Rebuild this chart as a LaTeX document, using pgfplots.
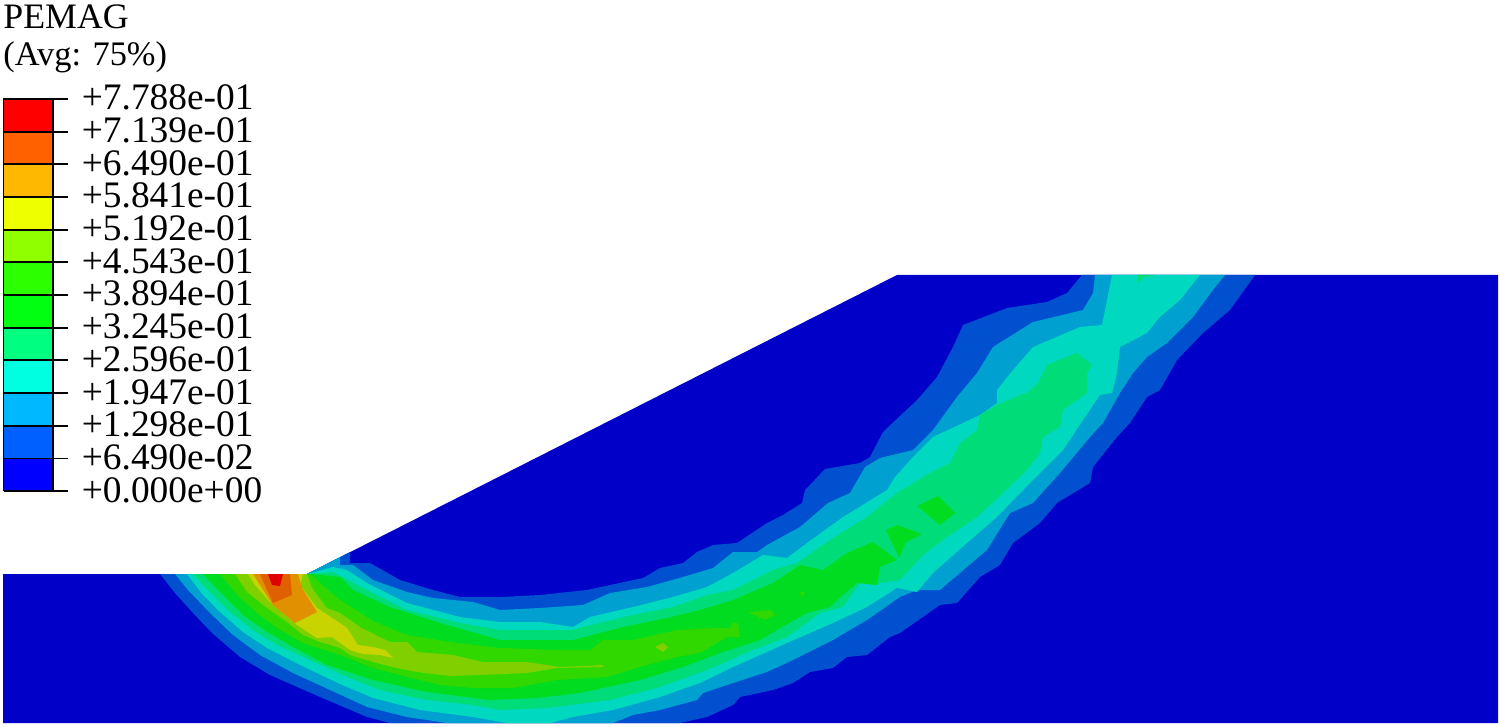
\documentclass[border=0pt]{standalone}
\usepackage{fontspec}
\setmainfont{Liberation Serif}
\usepackage{pgfplots}
\pgfplotsset{compat=1.18}
\definecolor{LA}{HTML}{0000C8}\definecolor{LB}{HTML}{0050D0}\definecolor{LC}{HTML}{00A0D0}
\definecolor{LD}{HTML}{00D8C0}\definecolor{LE}{HTML}{00DC78}\definecolor{LF}{HTML}{00DC20}
\definecolor{LG}{HTML}{30D800}\definecolor{LH}{HTML}{80D000}\definecolor{LI}{HTML}{C8D400}
\definecolor{LJ}{HTML}{E09000}\definecolor{LK}{HTML}{E06000}\definecolor{LL}{HTML}{E00000}
\definecolor{C1}{HTML}{FF0000}\definecolor{C2}{HTML}{FF6000}\definecolor{C3}{HTML}{FFB800}
\definecolor{C4}{HTML}{EEFF00}\definecolor{C5}{HTML}{90FF00}\definecolor{C6}{HTML}{2CFF00}
\definecolor{C7}{HTML}{00FF10}\definecolor{C8}{HTML}{00FF80}\definecolor{C9}{HTML}{00FFE0}
\definecolor{C10}{HTML}{00B8FF}\definecolor{C11}{HTML}{0060FF}\definecolor{C12}{HTML}{0000FF}
\begin{document}
\begin{tikzpicture}
\begin{axis}[scale only axis,width=750pt,height=363.5pt,xmin=0,xmax=1500,ymin=0,ymax=727,y dir=reverse,
  hide axis,clip=true,
  every axis plot/.append style={draw=none,mark=none}]
% domain
\addplot[fill=LA] coordinates {(3,574)(307,574)(897,275)(1498,275)(1498,723)(3,723)};
% L1
\addplot[fill=LB] coordinates {(160,574)(175,593)(193,613)(212,633)(240,657)(270,675)(320,697)(367,717)(390,723)(680,723)(707,717)(733,705)(740,697)(773,690)(793,683)(810,672)(833,668)(847,657)(867,655)(890,637)(900,633)(940,605)(957,603)(980,577)(1000,565)(1013,543)(1040,523)(1057,503)(1090,483)(1093,467)(1117,437)(1130,423)(1147,397)(1160,390)(1177,360)(1203,333)(1230,310)(1255,275)(1082,275)(1067,293)(1047,302)(1007,308)(963,325)(953,347)(937,377)(917,400)(883,432)(870,457)(860,463)(825,469)(805,490)(802,503)(783,515)(767,523)(737,543)(713,545)(697,552)(683,563)(660,568)(643,578)(610,585)(587,590)(540,595)(500,597)(460,597)(433,590)(400,580)(370,563)(350,563)(350,552)(307,574)};
% L2
\addplot[fill=LC] coordinates {(175,574)(188,590)(210,613)(233,635)(260,655)(293,673)(367,707)(407,717)(447,723)(613,723)(633,715)(660,710)(697,700)(703,693)(733,683)(767,672)(793,660)(833,640)(867,620)(900,597)(917,590)(940,590)(967,567)(987,550)(1010,513)(1033,503)(1060,473)(1090,437)(1103,423)(1120,393)(1133,373)(1147,357)(1167,343)(1193,317)(1213,290)(1225,275)(1095,275)(1093,293)(1083,310)(1033,322)(993,347)(977,373)(957,397)(933,430)(913,450)(880,458)(865,467)(850,493)(828,503)(800,527)(767,545)(757,552)(733,552)(713,568)(683,577)(647,587)(610,593)(583,605)(540,608)(500,610)(473,602)(433,598)(407,592)(373,580)(353,565)(340,565)(340,557)(307,574)};
% L3
\addplot[fill=LD] coordinates {(187,574)(203,595)(220,612)(243,632)(267,648)(300,665)(340,684)(373,698)(420,710)(473,717)(507,723)(550,723)(573,717)(613,710)(660,697)(700,683)(733,667)(787,643)(833,623)(867,607)(897,588)(917,592)(933,573)(967,543)(997,517)(1033,480)(1063,450)(1083,420)(1100,395)(1112,393)(1117,373)(1120,347)(1147,333)(1160,317)(1180,300)(1200,275)(1112,275)(1107,300)(1102,325)(1080,327)(1033,347)(1013,370)(997,390)(997,403)(980,415)(933,437)(913,457)(895,477)(887,490)(843,517)(807,543)(787,558)(763,555)(733,573)(707,587)(673,597)(633,607)(590,617)(573,627)(540,622)(500,622)(460,617)(407,603)(367,583)(347,570)(333,567)(307,574)};
% L4
\addplot[fill=LE] coordinates {(193,574)(210,592)(230,612)(253,630)(277,645)(310,660)(345,676)(380,690)(427,700)(473,705)(500,710)(547,708)(610,700)(657,688)(707,670)(753,650)(787,637)(820,613)(843,607)(860,583)(880,583)(900,580)(923,555)(947,537)(977,517)(1003,493)(1027,470)(1040,453)(1043,437)(1060,427)(1063,410)(1087,393)(1087,373)(1092,365)(1077,353)(1047,365)(1038,383)(1027,393)(1020,395)(997,405)(980,415)(977,430)(960,443)(950,463)(930,473)(897,493)(867,517)(830,540)(797,563)(773,570)(733,590)(707,595)(673,607)(633,615)(583,627)(573,630)(533,630)(500,630)(460,623)(407,610)(367,590)(333,572)(307,574)};
\addplot[fill=LE] coordinates {(1137,275)(1138,283)(1143,278)(1155,275)};
% L5
\addplot[fill=LF] coordinates {(203,574)(223,595)(243,615)(267,632)(293,647)(327,665)(373,680)(427,692)(490,700)(537,698)(580,693)(640,680)(683,667)(720,653)(760,640)(777,630)(807,613)(830,607)(843,595)(857,583)(877,585)(880,567)(897,560)(873,542)(847,553)(823,570)(800,565)(773,583)(733,600)(700,610)(667,618)(623,627)(573,640)(533,640)(500,640)(440,623)(390,607)(353,590)(340,577)(312,574)};
\addplot[fill=LF] coordinates {(886,530)(897,525)(922,534)(906,542)(899,558)};
\addplot[fill=LF] coordinates {(917,506)(938,496)(955,513)(940,525)};
% L6
\addplot[fill=LG] coordinates {(220,574)(237,595)(257,613)(277,628)(303,643)(340,655)(373,668)(407,677)(440,685)(473,688)(513,688)(557,680)(607,677)(640,667)(677,657)(700,653)(727,637)(740,637)(738,623)(733,623)(730,628)(713,628)(677,630)(633,640)(603,640)(590,650)(557,650)(500,648)(450,642)(407,635)(373,621)(340,600)(320,583)(310,574)};
\addplot[fill=LG] coordinates {(748,612)(770,610)(775,615)(765,620)};
\addplot[fill=LG] coordinates {(800,593)(803,591)(805,594)(802,596)};
% L7
\addplot[fill=LH] coordinates {(235,574)(247,592)(267,608)(287,622)(303,635)(320,642)(340,648)(350,655)(373,662)(397,668)(417,672)(450,676)(480,675)(527,673)(557,668)(603,667)(603,665)(560,667)(527,662)(483,662)(453,655)(417,652)(407,642)(390,642)(360,627)(340,613)(327,608)(312,588)(307,574)};
\addplot[fill=LH] coordinates {(655,647)(663,643)(668,647)(663,652)};
% L8
\addplot[fill=LI] coordinates {(248,574)(255,585)(270,602)(297,625)(317,638)(332,637)(350,650)(363,654)(380,655)(393,658)(385,650)(373,647)(358,645)(347,628)(340,623)(317,608)(300,585)(303,574)};
% L9
\addplot[fill=LJ] coordinates {(253,574)(262,588)(273,605)(295,623)(317,612)(302,588)(298,574)};
% L10
\addplot[fill=LK] coordinates {(260,574)(267,590)(273,603)(292,595)(290,574)};
% L11
\addplot[fill=LL] coordinates {(268,574)(272,585)(280,586)(283,574)};
% legend bar
\addplot[fill=C1] coordinates {(3.5,99)(53,99)(53,131.7)(3.5,131.7)};
\addplot[fill=C2] coordinates {(3.5,131.7)(53,131.7)(53,164.4)(3.5,164.4)};
\addplot[fill=C3] coordinates {(3.5,164.4)(53,164.4)(53,197)(3.5,197)};
\addplot[fill=C4] coordinates {(3.5,197)(53,197)(53,229.7)(3.5,229.7)};
\addplot[fill=C5] coordinates {(3.5,229.7)(53,229.7)(53,262.4)(3.5,262.4)};
\addplot[fill=C6] coordinates {(3.5,262.4)(53,262.4)(53,295)(3.5,295)};
\addplot[fill=C7] coordinates {(3.5,295)(53,295)(53,327.7)(3.5,327.7)};
\addplot[fill=C8] coordinates {(3.5,327.7)(53,327.7)(53,360.4)(3.5,360.4)};
\addplot[fill=C9] coordinates {(3.5,360.4)(53,360.4)(53,393)(3.5,393)};
\addplot[fill=C10] coordinates {(3.5,393)(53,393)(53,425.7)(3.5,425.7)};
\addplot[fill=C11] coordinates {(3.5,425.7)(53,425.7)(53,458.4)(3.5,458.4)};
\addplot[fill=C12] coordinates {(3.5,458.4)(53,458.4)(53,491)(3.5,491)};
\addplot[draw=black,line width=0.9pt] coordinates {(3.5,491)(3.5,99)(53,99)(53,491)(3.5,491)};
\pgfplotsinvokeforeach{99,131.7,164.4,197,229.7,262.4,295,327.7,360.4,393,425.7,458.4,491}{
  \addplot[draw=black,line width=0.9pt] coordinates {(3.5,#1)(68,#1)};
}
\node[anchor=base west,inner sep=0,font=\fontsize{17.9}{20}\selectfont] at (axis cs:3,29) {PEMAG};
\node[anchor=base west,inner sep=0,font=\fontsize{17.2}{20}\selectfont] at (axis cs:3,66) {(Avg: 75\%)};
\newcommand{\lab}[2]{\node[anchor=base west,inner sep=0,font=\fontsize{18.7}{20}\selectfont] at (axis cs:81.5,#1) {#2};}
\lab{110}{+7.788e-01}
\lab{142.7}{+7.139e-01}
\lab{175.4}{+6.490e-01}
\lab{208}{+5.841e-01}
\lab{240.7}{+5.192e-01}
\lab{273.4}{+4.543e-01}
\lab{306}{+3.894e-01}
\lab{338.7}{+3.245e-01}
\lab{371.4}{+2.596e-01}
\lab{404}{+1.947e-01}
\lab{436.7}{+1.298e-01}
\lab{469.4}{+6.490e-02}
\lab{502}{+0.000e+00}
\end{axis}
\path[use as bounding box] (current axis.south west) rectangle (current axis.north east);
\end{tikzpicture}
\end{document}
